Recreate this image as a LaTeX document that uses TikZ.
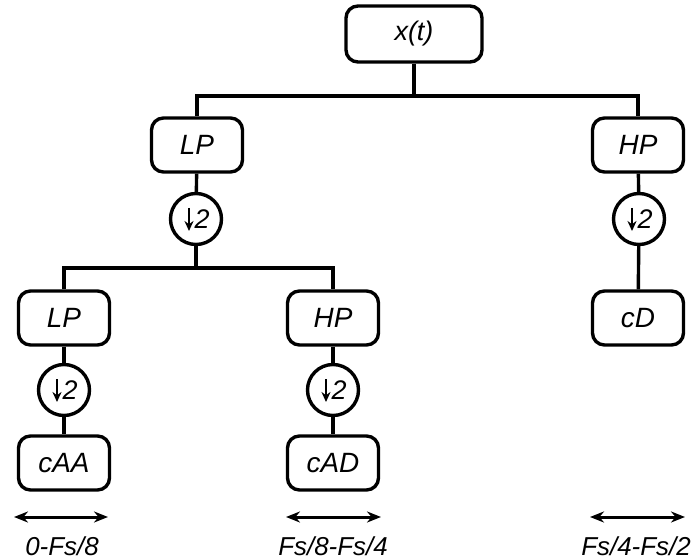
\documentclass[tikz,border=0pt]{standalone}
\usepackage{fontspec}
\setmainfont{Liberation Sans}
\usetikzlibrary{arrows.meta}
\begin{document}
\begin{tikzpicture}[x=1bp,y=-1bp,
  line width=3.4bp,
  box/.style={draw, rounded corners=12bp, minimum width=91bp, minimum height=54bp, inner sep=0pt, font=\fontsize{28}{30}\selectfont\itshape},
  dec/.style={draw, circle, minimum size=51bp, inner sep=0pt, font=\fontsize{27}{30}\selectfont\itshape,
    path picture={\draw[line width=2.4bp, -{Stealth[length=10bp,width=9bp]}]
      ([xshift=-7bp,yshift=11bp]path picture bounding box.center) --
      ([xshift=-7bp,yshift=-12bp]path picture bounding box.center);}},
  band/.style={{Stealth[length=14bp,width=11bp]}-{Stealth[length=14bp,width=11bp]}, line width=3bp},
  lab/.style={font=\fontsize{26}{28}\selectfont\itshape, inner sep=0pt}
]
\useasboundingbox (0,0) rectangle (693,560);
\node[box, minimum width=136bp, minimum height=56bp, font=\fontsize{27}{30}\selectfont\itshape] (xt) at (414,34) {x(t)};
\node[box] (LP1) at (197,145) {LP};
\node[box] (HP1) at (638,145) {HP};
\node[dec] (d1) at (196,219) {\hspace*{12bp}2};
\node[dec] (d2) at (639,219) {\hspace*{12bp}2};
\node[box] (cD) at (638,318) {cD};
\node[box] (LP2) at (64,318) {LP};
\node[box] (HP2) at (333,318) {HP};
\node[dec] (d3) at (64,390) {\hspace*{12bp}2};
\node[dec] (d4) at (333,390) {\hspace*{12bp}2};
\node[box] (cAA) at (64,463) {cAA};
\node[box] (cAD) at (333,463) {cAD};
\coordinate (b1) at (414,96);
\coordinate (b2) at (196,268);
\draw (xt.south) -- (b1);
\draw (LP1.north) |- (b1) -| (HP1.north);
\draw (LP1) -- (d1);
\draw (HP1) -- (d2);
\draw (d2) -- (cD);
\draw (d1.south) -- (b2);
\draw (LP2.north) |- (b2) -| (HP2.north);
\draw (LP2) -- (d3);
\draw (d3) -- (cAA);
\draw (HP2) -- (d4);
\draw (d4) -- (cAD);
\coordinate (a1l) at (14,517); \coordinate (a1r) at (108,517);
\coordinate (a2l) at (286,517); \coordinate (a2r) at (381,517);
\coordinate (a3l) at (590,517); \coordinate (a3r) at (685,517);
\draw[band] (a1l) -- (a1r);
\draw[band] (a2l) -- (a2r);
\draw[band] (a3l) -- (a3r);
\node[lab] (l1) at (62,546) {0-Fs/8};
\node[lab] (l2) at (333,546) {Fs/8-Fs/4};
\node[lab] (l3) at (636,546) {Fs/4-Fs/2};
\end{tikzpicture}
\end{document}
